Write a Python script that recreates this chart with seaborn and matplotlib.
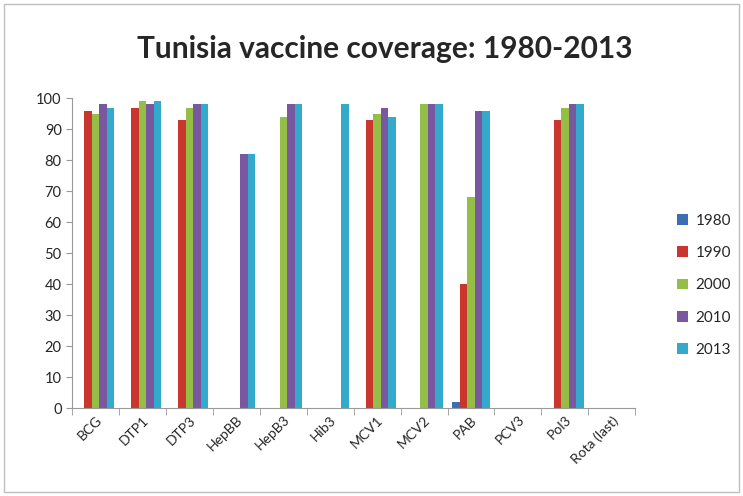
import numpy as np
import pandas as pd
import matplotlib
matplotlib.use("Agg")
import matplotlib.pyplot as plt
import seaborn as sns
from matplotlib.patches import Rectangle

# vaccine names on the x axis
vaccines = ["BCG", "DTP1", "DTP3", "HepBB", "HepB3", "Hib3", "MCV1", "MCV2",
            "PAB", "PCV3", "Pol3", "Rota (last)"]
years = ["1980", "1990", "2000", "2010", "2013"]

# coverage (%) per year, one value per vaccine
cov_1980 = [0, 0, 0, 0, 0, 0, 0, 0, 2, 0, 0, 0]
cov_1990 = [96, 97, 93, 0, 0, 0, 93, 0, 40, 0, 93, 0]
cov_2000 = [95, 99, 97, 0, 94, 0, 95, 98, 68, 0, 97, 0]
cov_2010 = [98, 98, 98, 82, 98, 0, 97, 98, 96, 0, 98, 0]
cov_2013 = [97, 99, 98, 82, 98, 98, 94, 98, 96, 0, 98, 0]

colors = ["#3C6EB4", "#C8362E", "#94BE46", "#7A58A0", "#33AACB"]

# build long-form table for seaborn
series = [cov_1980, cov_1990, cov_2000, cov_2010, cov_2013]
rows = []
for yr, vals in zip(years, series):
    for v, c in zip(vaccines, vals):
        rows.append({"Vaccine": v, "Year": yr, "Coverage": c})
df = pd.DataFrame(rows)

sns.set_style("white")
plt.rcParams["font.family"] = ["Lato", "DejaVu Sans"]

fig = plt.figure(figsize=(7.43, 4.96), dpi=100)
ax = fig.add_axes([0.097, 0.177, 0.758, 0.625])

sns.barplot(data=df, x="Vaccine", y="Coverage", hue="Year", palette=colors,
            width=0.8, ax=ax, legend=True, saturation=1, linewidth=0)

ax.set_ylim(0, 100)
ax.set_xlim(-0.5, len(vaccines) - 0.5)
ax.set_yticks(np.arange(0, 101, 10))
ax.tick_params(axis="y", labelsize=10.5, length=4, color="#999999", direction="out", left=True)
ax.set_xticks(range(len(vaccines)))
ax.set_xticklabels(vaccines, rotation=45, ha="right", rotation_mode="anchor", fontsize=10)
ax.tick_params(axis="x", length=0, pad=4)
# tick marks at category boundaries
ax.set_xticks(np.arange(-0.5, len(vaccines), 1), minor=True)
ax.tick_params(axis="x", which="minor", length=5, color="#999999", direction="out", bottom=True)
ax.set_xlabel("")
ax.set_ylabel("")
for s in ["top", "right"]:
    ax.spines[s].set_visible(False)
ax.spines["left"].set_color("#999999")
ax.spines["bottom"].set_color("#999999")

ax.legend(loc="center left", bbox_to_anchor=(0.893, 0.425), bbox_transform=fig.transFigure,
          frameon=False, fontsize=11, labelspacing=1.2, handlelength=0.7,
          handleheight=0.7, handletextpad=0.5)

fig.suptitle("Tunisia vaccine coverage: 1980-2013", x=0.518, y=0.93,
             fontsize=21.5, fontweight="bold")

fig.patches.append(Rectangle((0.006, 0.008), 0.988, 0.984, transform=fig.transFigure,
                             fill=False, edgecolor="#BFBFBF", linewidth=1))

fig.savefig("out.png", dpi=100)
